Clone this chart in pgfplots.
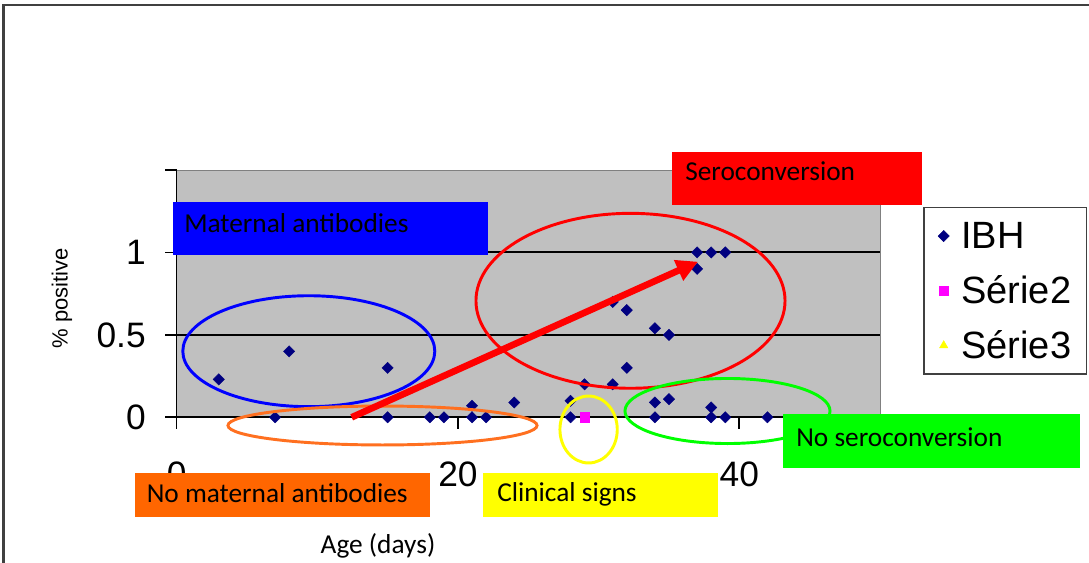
\documentclass[border=0pt]{standalone}
\usepackage{fontspec}
\setmainfont{Liberation Sans}
\newfontfamily\calibri{Carlito}
\usepackage{pgfplots}
\pgfplotsset{compat=1.18}
\usetikzlibrary{arrows.meta}
\definecolor{plotgray}{HTML}{C0C0C0}
\definecolor{ibh}{HTML}{000080}
\definecolor{serie2}{HTML}{FF00FF}
\definecolor{serie3}{HTML}{FFFF00}
\definecolor{framegray}{HTML}{404040}
\definecolor{legendgray}{HTML}{404040}
\definecolor{boxorange}{HTML}{FF6600}
\definecolor{ellorange}{HTML}{FF7020}
\definecolor{boxgreen}{HTML}{00FF00}
\definecolor{boxyellow}{HTML}{FFFF00}
\definecolor{boxblue}{HTML}{0000FF}
\definecolor{boxred}{HTML}{FF0000}
\begin{document}
\begin{tikzpicture}
\begin{axis}[
  at={(132.45pt,-312.975pt)}, anchor=south west,
  scale only axis, width=527.55pt, height=185.5pt,
  xmin=0, xmax=50, ymin=0, ymax=1.5,
  axis lines*=left,
  axis line style={black, line width=1.3pt},
  axis background/.style={fill=plotgray, draw=gray, line width=0.6pt},
  xtick={0,20,40}, xticklabels={0,20,40},
  ytick={0,0.5,1}, yticklabels={0,0.5,1},
  extra y ticks={1.5}, extra y tick labels={}, extra y tick style={grid=none},
  ymajorgrids, grid style={black, line width=1.4pt},
  tick align=outside, major tick length=8.5pt,
  tick style={black, line width=1.3pt},
  ticklabel style={font=\fontsize{26.5}{30}\selectfont, inner sep=0pt},
  yticklabel style={xshift=-14.5pt},
  xticklabel style={yshift=-25pt},
  xlabel={Age (days)},
  xlabel style={at={(rel axis cs:0.2863,-0.5204)}, anchor=center, font=\calibri\fontsize{20.5}{24}\selectfont, inner sep=0pt},
  ylabel={\% positive},
  ylabel style={at={(rel axis cs:-0.163,0.482)}, anchor=center, font=\fontsize{16.5}{20}\selectfont, inner sep=0pt},
  clip=false,
  legend style={at={(rel axis cs:1.0616,0.8516)}, anchor=north west, draw=legendgray, line width=1.1pt, fill=white,
    font=\fontsize{28.5}{32}\selectfont, row sep=16pt, column sep=8pt, inner xsep=10.5pt, inner ysep=9pt,
    nodes={text height=21pt, text depth=2pt, inner sep=1pt}},
  legend cell align=left,
  legend image code/.code={\draw[mark repeat=2,mark phase=2,#1] plot coordinates {(0pt,0pt)(6pt,0pt)(12pt,0pt)};},
]
\addplot[only marks, mark=square*, mark size=3pt, mark options={rotate=45, fill=ibh, draw=ibh, line width=0.3pt}] coordinates {
(3,0.23) (7,0) (8,0.4) (15,0.3) (15,0) (18,0) (19,0) (21,0.07) (21,0) (22,0) (24,0.09)
(28,0.1) (28,0) (29,0.2) (31,0.2) (31,0.7) (32,0.65) (32,0.3) (34,0.54) (35,0.5)
(34,0.09) (34,0) (35,0.11) (37,1) (38,1) (39,1) (37,0.9) (38,0.06) (38,0) (39,0) (42,0)
};
\addlegendentry{IBH}
\addplot[only marks, mark=square*, mark size=3.5pt, mark options={fill=serie2, draw=serie2, line width=0.3pt}] coordinates {
(29,0)
};
\addlegendentry{Série2}
\addlegendimage{only marks, mark=triangle*, mark size=3.6pt, mark options={fill=serie3, draw=serie3, line width=0.3pt}}
\addlegendentry{Série3}
\end{axis}
\begin{scope}[x=0.75pt,y=-0.75pt]
  % chart frame
  \draw[framegray, line width=1.8pt] (3.3,563) -- (3.3,5) -- (1089,5);
  % maternal antibodies
  \fill[boxblue] (172.7,201.7) rectangle (488.3,255);
  \node[anchor=base west, inner sep=0pt, font=\calibri\fontsize{20.5}{23}\selectfont] at (184,233) {Maternal antibodies};
  \draw[boxblue, line width=2.2pt] (308.8,351.2) ellipse [x radius=94.5pt, y radius=41.6pt];
  % no maternal antibodies
  \draw[ellorange, line width=2.2pt] (382.5,425.5) ellipse [x radius=115.9pt, y radius=14.6pt];
  \fill[boxorange] (135,473.3) rectangle (430,516.7);
  \node[anchor=base west, inner sep=0pt, font=\calibri\fontsize{20.5}{23}\selectfont] at (146.5,502) {No maternal antibodies};
  % seroconversion
  \draw[boxred, line width=2.2pt] (630.5,300.8) ellipse [x radius=115.9pt, y radius=65.6pt];
  \draw[boxred, line width=5pt, -{Triangle[length=16pt, width=16pt]}] (351.7,417.3) -- (698,261.7);
  \fill[boxred] (672.3,151.7) rectangle (922,205);
  \node[anchor=base west, inner sep=0pt, font=\calibri\fontsize{20.5}{23}\selectfont] at (685,181) {Seroconversion};
  % clinical signs
  \draw[boxyellow, line width=2.2pt] (588.6,429.5) ellipse [x radius=21.5pt, y radius=25.1pt];
  \fill[boxyellow] (483.3,473.3) rectangle (718,516.7);
  \node[anchor=base west, inner sep=0pt, font=\calibri\fontsize{20.5}{23}\selectfont] at (497,501.5) {Clinical signs};
  % no seroconversion
  \draw[boxgreen, line width=2.2pt] (727.5,411) ellipse [x radius=76.9pt, y radius=24.4pt];
  \fill[boxgreen] (783,414) rectangle (1080,468);
  \node[anchor=base west, inner sep=0pt, font=\calibri\fontsize{20.5}{23}\selectfont] at (796,446) {No seroconversion};
  \pgfresetboundingbox
  \path[use as bounding box] (0,0) rectangle (1089,563);
\end{scope}
\end{tikzpicture}
\end{document}
